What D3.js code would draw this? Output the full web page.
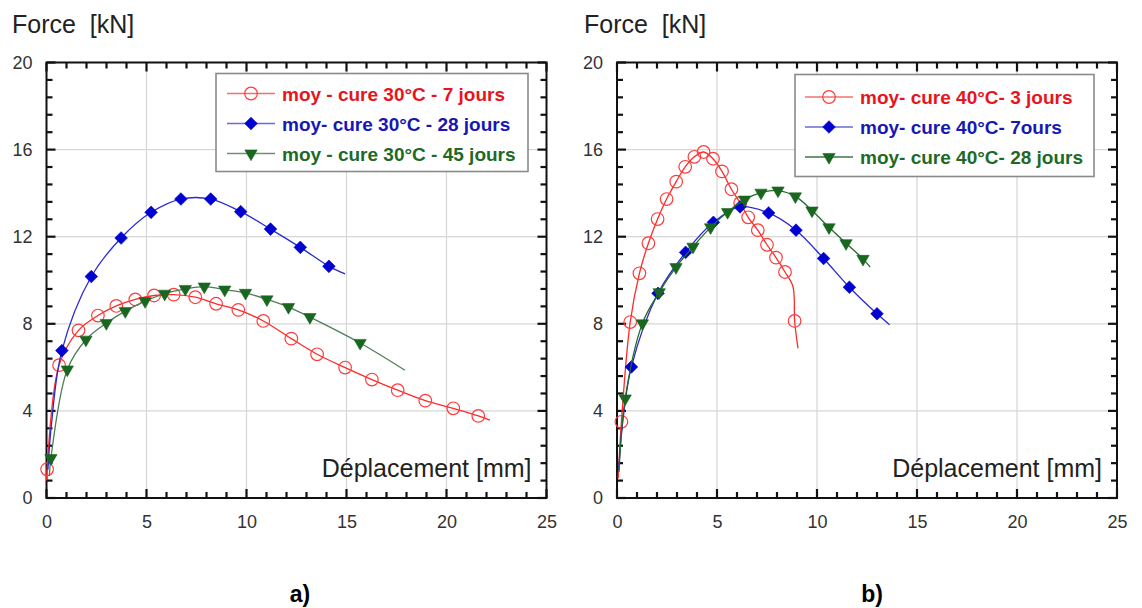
<!DOCTYPE html>
<html>
<head>
<meta charset="utf-8">
<script src="https://cdn.jsdelivr.net/npm/d3@7"></script>
<style>
  body { margin: 0; background: #fff; }
  svg { display: block; }
  text { font-family: "Liberation Sans", Arial, sans-serif; }
</style>
</head>
<body>
<svg id="fig" width="1142" height="608"></svg>
<script>
// ---------------- data ----------------
const dispTicks  = [0, 5, 10, 15, 20, 25];
const forceTicks = [0, 4, 8, 12, 16, 20];

// a) cure at 30 °C
const a7Disp   = [0.03, 0.63, 1.6, 2.57, 3.49, 4.44, 5.38, 6.36, 7.44, 8.48, 9.59, 10.84, 12.24, 13.53, 14.93, 16.27, 17.56, 18.94, 20.34, 21.59];
const a7Force  = [1.32, 6.1, 7.7, 8.38, 8.82, 9.12, 9.3, 9.34, 9.22, 8.92, 8.64, 8.13, 7.32, 6.6, 5.99, 5.44, 4.95, 4.47, 4.12, 3.77];
const a7LineDisp  = [0.01, 22.17];
const a7LineForce = [0.8, 3.58];

const a28Disp  = [0.77, 2.24, 3.73, 5.23, 6.72, 8.21, 9.71, 11.2, 12.69, 14.12];
const a28Force = [6.77, 10.17, 11.94, 13.12, 13.73, 13.73, 13.15, 12.35, 11.51, 10.64];
const a28LineDisp  = [0.07, 0.25, 14.93];
const a28LineForce = [1.3, 3.4, 10.29];

const a45Disp  = [0.22, 1.04, 1.97, 2.99, 3.94, 4.93, 5.91, 6.94, 7.89, 8.91, 9.95, 11.02, 12.1, 13.17, 15.68];
const a45Force = [1.83, 5.9, 7.27, 8.03, 8.58, 9.04, 9.38, 9.6, 9.71, 9.57, 9.42, 9.12, 8.77, 8.31, 7.12];
const a45LineDisp  = [0.14, 17.92];
const a45LineForce = [1.0, 5.87];

// b) cure at 40 °C
const b3Disp   = [0.22, 0.66, 1.12, 1.57, 2.03, 2.48, 2.96, 3.41, 3.87, 4.33, 4.8, 5.25, 5.72, 6.16, 6.56, 7.04, 7.5, 7.95, 8.4, 8.88];
const b3Force  = [3.5, 8.08, 10.32, 11.7, 12.81, 13.73, 14.53, 15.21, 15.67, 15.89, 15.58, 15.0, 14.18, 13.55, 12.89, 12.3, 11.63, 11.04, 10.38, 8.13];
const b3LineDisp  = [0.06, 8.8, 9.05];
const b3LineForce = [0.9, 9.7, 6.87];

const b7Disp   = [0.72, 2.05, 3.43, 4.82, 6.15, 7.58, 8.95, 10.33, 11.62, 13.0];
const b7Force  = [6.02, 9.4, 11.28, 12.66, 13.37, 13.09, 12.3, 11.0, 9.68, 8.46];
const b7LineDisp  = [0.08, 0.3, 13.63];
const b7LineForce = [1.3, 3.6, 7.96];

const b28Disp  = [0.41, 1.27, 2.11, 2.95, 3.8, 4.68, 5.53, 6.38, 7.2, 8.05, 8.92, 9.75, 10.6, 11.45, 12.3];
const b28Force = [4.57, 8.02, 9.45, 10.6, 11.54, 12.43, 13.13, 13.7, 14.02, 14.12, 13.85, 13.2, 12.43, 11.7, 10.98];
const b28LineDisp  = [0.1, 12.66];
const b28LineForce = [1.2, 10.6];

const panelALabels = ["moy - cure 30°C - 7 jours", "moy- cure 30°C - 28 jours", "moy - cure 30°C - 45 jours"];
const panelBLabels = ["moy- cure 40°C- 3 jours", "moy- cure 40°C- 7ours", "moy- cure 40°C- 28 jours"];
const captions = ["a)", "b)"];

// ---------------- styles ----------------
const STY = {
  red:   { line: "#ff2a2a", mark: "#ff3b3b", text: "#e8141c", legLine: "#f07070", symbol: "circle" },
  blue:  { line: "#2a2ad0", mark: "#0000d0", text: "#1717b5", legLine: "#6a6ad8", symbol: "diamond" },
  green: { line: "#4f7d58", mark: "#18661f", text: "#1d6a25", legLine: "#6f9076", symbol: "triangle" },
  green2:{ line: "#23692c", mark: "#18661f", text: "#1d6a25", legLine: "#3f7446", symbol: "triangle" }
};

const svg = d3.select("#fig");

function zip(xs, ys) { return xs.map((x, i) => [x, ys[i]]); }

function markerPath(kind) {
  if (kind === "circle")   return d3.symbol(d3.symbolCircle, Math.PI * 6.3 * 6.3)();
  if (kind === "diamond")  return d3.symbol(d3.symbolSquare, 80)();
  return d3.symbol(d3.symbolTriangle, 66)();
}
function markerTransform(kind, x, y) {
  if (kind === "diamond")  return `translate(${x},${y}) rotate(45)`;
  if (kind === "triangle") return `translate(${x},${y}) rotate(180)`;
  return `translate(${x},${y})`;
}
function drawMarker(g, kind, sty, x, y) {
  const p = g.append("path")
    .attr("d", markerPath(kind))
    .attr("transform", markerTransform(kind, x, y));
  if (kind === "circle") p.attr("fill", "none").attr("stroke", sty.mark).attr("stroke-width", 1.2);
  else p.attr("fill", sty.mark).attr("stroke", sty.mark).attr("stroke-width", 0.6);
}

function drawPanel(opt) {
  const { left, right, top, bottom } = opt;
  const x = d3.scaleLinear().domain([0, 25]).range([left, right]);
  const y = d3.scaleLinear().domain([0, 20]).range([bottom, top]);
  const g = svg.append("g");

  // grid
  g.append("g").selectAll("line").data(dispTicks.slice(1, -1)).join("line")
    .attr("x1", d => x(d)).attr("x2", d => x(d)).attr("y1", top).attr("y2", bottom)
    .attr("stroke", "#d6d6d6").attr("stroke-width", 1.2);
  g.append("g").selectAll("line").data(forceTicks.slice(1, -1)).join("line")
    .attr("y1", d => y(d)).attr("y2", d => y(d)).attr("x1", left).attr("x2", right)
    .attr("stroke", "#d6d6d6").attr("stroke-width", 1.2);

  // tick labels from d3 axes (tick lines drawn separately below)
  const xAxis = g.append("g").attr("transform", `translate(0,${bottom})`)
    .call(d3.axisBottom(x).tickValues(dispTicks).tickSize(0).tickPadding(17).tickFormat(d3.format("d")));
  const yAxis = g.append("g").attr("transform", `translate(${left},0)`)
    .call(d3.axisLeft(y).tickValues(forceTicks).tickSize(0).tickPadding(14).tickFormat(d3.format("d")));
  [xAxis, yAxis].forEach(ax => {
    ax.select(".domain").remove();
    ax.selectAll("text").attr("font-size", 18).attr("fill", "#333")
      .attr("font-family", "Liberation Sans, Arial, sans-serif");
  });

  // inward ticks on all four sides: majors at labelled values, minors between
  const minorX = d3.range(1, 25).filter(v => v % 5 !== 0);
  const minorY = d3.range(1, 25).map(i => +(i * 0.8).toFixed(1)).filter(v => v < 20 && v % 4 !== 0);
  const tickG = g.append("g").attr("stroke", "#111").attr("stroke-width", 2.2);
  const xt = dispTicks.map(v => ({ v, len: 9 })).concat(minorX.map(v => ({ v, len: 6 })));
  const yt = forceTicks.map(v => ({ v, len: 9 })).concat(minorY.map(v => ({ v, len: 6 })));
  tickG.selectAll(".xb").data(xt).join("line").attr("class", "xb")
    .attr("x1", d => x(d.v)).attr("x2", d => x(d.v)).attr("y1", bottom).attr("y2", d => bottom - d.len);
  tickG.selectAll(".xt").data(xt).join("line").attr("class", "xt")
    .attr("x1", d => x(d.v)).attr("x2", d => x(d.v)).attr("y1", top).attr("y2", d => top + d.len);
  tickG.selectAll(".yl").data(yt).join("line").attr("class", "yl")
    .attr("y1", d => y(d.v)).attr("y2", d => y(d.v)).attr("x1", left).attr("x2", d => left + d.len);
  tickG.selectAll(".yr").data(yt).join("line").attr("class", "yr")
    .attr("y1", d => y(d.v)).attr("y2", d => y(d.v)).attr("x1", right).attr("x2", d => right - d.len);

  // frame
  g.append("rect").attr("x", left).attr("y", top).attr("width", right - left).attr("height", bottom - top)
    .attr("fill", "none").attr("stroke", "#111").attr("stroke-width", 2);

  // axis titles
  g.append("text").attr("x", opt.forceTitleX).attr("y", 33)
    .attr("font-size", 25).attr("fill", "#222").style("white-space", "pre")
    .text("Force  [kN]");
  g.append("text").attr("x", right - 15).attr("y", 477).attr("text-anchor", "end")
    .attr("font-size", 25).attr("fill", "#222")
    .text("Déplacement [mm]");

  // curves and markers
  const line = d3.line().x(d => x(d[0])).y(d => y(d[1])).curve(d3.curveCatmullRom.alpha(0.5));
  const plot = g.append("g");
  opt.series.forEach(s => {
    const pts = zip(s.disp, s.force).concat(zip(s.lineDisp, s.lineForce)).sort((p, q) => p[0] - q[0]);
    plot.append("path").attr("d", line(pts)).attr("fill", "none")
      .attr("stroke", s.sty.line).attr("stroke-width", 1.3);
    const mg = plot.append("g");
    zip(s.disp, s.force).forEach(p => drawMarker(mg, s.sty.symbol, s.sty, x(p[0]), y(p[1])));
  });

  // legend
  const L = opt.legend;
  const lg = g.append("g");
  lg.append("rect").attr("x", L.x).attr("y", L.y).attr("width", L.w).attr("height", L.h)
    .attr("fill", "#fff").attr("stroke", "#8a8a8a").attr("stroke-width", 1.6);
  opt.series.forEach((s, i) => {
    const cy = L.rows[i];
    lg.append("line").attr("x1", L.lineX0).attr("x2", L.lineX1).attr("y1", cy).attr("y2", cy)
      .attr("stroke", s.sty.legLine).attr("stroke-width", 1.4);
    drawMarker(lg, s.sty.symbol, s.sty, (L.lineX0 + L.lineX1) / 2, cy);
    lg.append("text").attr("x", L.textX).attr("y", cy + 7)
      .attr("font-size", 19).attr("font-weight", "bold").attr("fill", s.sty.text)
      .text(opt.labels[i]);
  });

  // caption
  svg.append("text").attr("x", opt.captionX).attr("y", 602).attr("text-anchor", "middle")
    .attr("font-family", "Liberation Serif, Times New Roman, serif").attr("font-weight", "bold")
    .attr("font-size", 23).attr("fill", "#000").text(opt.caption);
}

drawPanel({
  left: 46.5, right: 546.5, top: 62.5, bottom: 498,
  forceTitleX: 12,
  caption: captions[0], captionX: 300,
  labels: panelALabels,
  series: [
    { disp: a7Disp,  force: a7Force,  lineDisp: a7LineDisp,  lineForce: a7LineForce,  sty: STY.red },
    { disp: a28Disp, force: a28Force, lineDisp: a28LineDisp, lineForce: a28LineForce, sty: STY.blue },
    { disp: a45Disp, force: a45Force, lineDisp: a45LineDisp, lineForce: a45LineForce, sty: STY.green }
  ],
  legend: { x: 216, y: 73.5, w: 312, h: 98, rows: [93.5, 123.5, 153.5], lineX0: 227, lineX1: 275, textX: 282 }
});

drawPanel({
  left: 617, right: 1117, top: 62.5, bottom: 498,
  forceTitleX: 584,
  caption: captions[1], captionX: 872,
  labels: panelBLabels,
  series: [
    { disp: b3Disp,  force: b3Force,  lineDisp: b3LineDisp,  lineForce: b3LineForce,  sty: STY.red },
    { disp: b7Disp,  force: b7Force,  lineDisp: b7LineDisp,  lineForce: b7LineForce,  sty: STY.blue },
    { disp: b28Disp, force: b28Force, lineDisp: b28LineDisp, lineForce: b28LineForce, sty: STY.green2 }
  ],
  legend: { x: 795, y: 74.5, w: 299, h: 102, rows: [97, 127, 157], lineX0: 805, lineX1: 853, textX: 860 }
});
</script>
</body>
</html>
